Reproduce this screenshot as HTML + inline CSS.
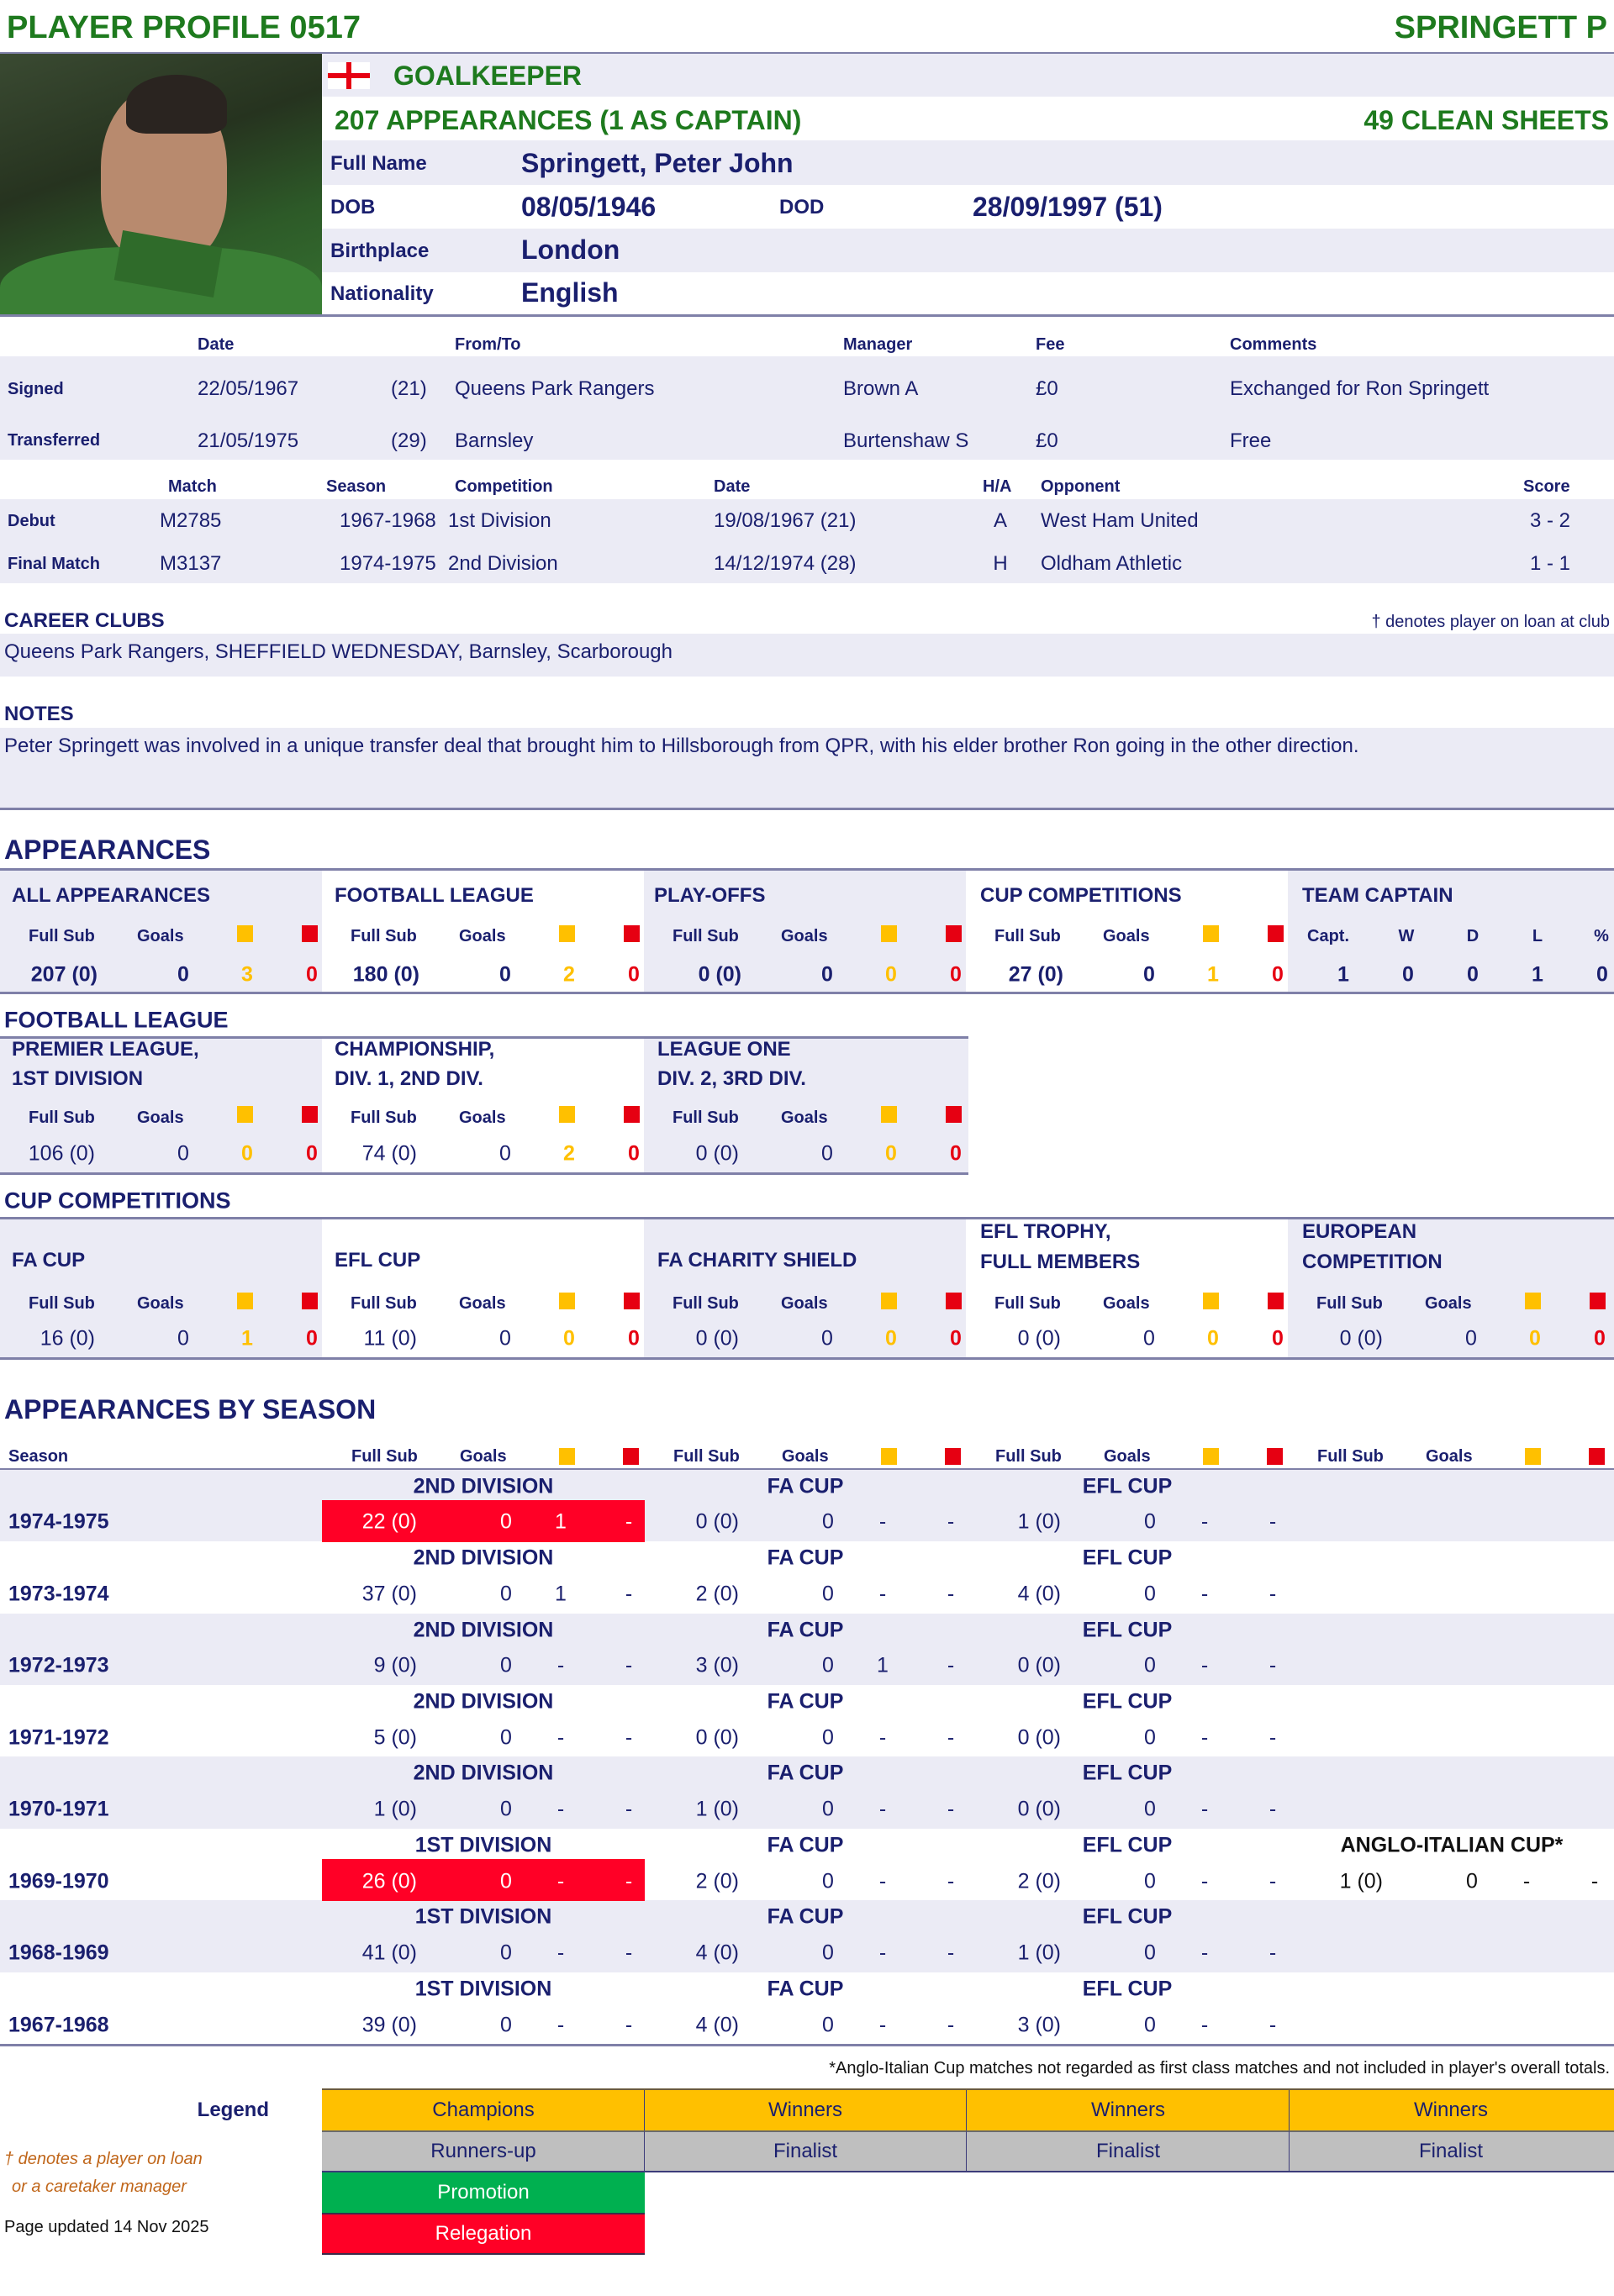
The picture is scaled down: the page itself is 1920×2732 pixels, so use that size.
<!DOCTYPE html>
<html><head><meta charset="utf-8"><style>
*{margin:0;padding:0;box-sizing:border-box}
body{width:1920px;height:2732px;position:relative;background:#fff;font-family:"Liberation Sans",sans-serif;color:#1a1f6e;overflow:hidden}
.b{position:absolute}
.t{position:absolute;transform:translateY(-50%);white-space:nowrap;line-height:1}
.c{position:absolute;transform:translate(-50%,-50%);white-space:nowrap;line-height:1}
.r{position:absolute;transform:translate(-100%,-50%);white-space:nowrap;line-height:1}
.lav{background:#ebebf5}
.g{color:#1e7a1e;font-weight:bold}
.bo{font-weight:bold}
.s20{font-size:20px}.s22{font-size:22px}.s24{font-size:24px}.s25{font-size:25px}.s27{font-size:27px}.s32{font-size:32px}
.line{position:absolute;height:3px;background:#7f80a8}
.yc{position:absolute;width:19px;height:20px;background:#ffc000}
.rc{position:absolute;width:19px;height:20px;background:#e60012}
.y{color:#ffc000}.rd{color:#e60012}
.rel{position:absolute;background:#ff0026}
</style></head><body>

<!-- Title -->
<div class="t g" style="left:8px;top:33px;font-size:38px">PLAYER PROFILE 0517</div>
<div class="r g" style="left:1912px;top:33px;font-size:38px">SPRINGETT P</div>
<div class="line" style="left:0;top:62px;width:1920px"></div>

<!-- Photo -->
<div class="b" style="left:0;top:64px;width:383px;height:311px;background:linear-gradient(160deg,#3a4a32 0%,#26331f 40%,#2d5a28 70%,#357030 100%);overflow:hidden">
  <div class="b" style="left:120px;top:40px;width:150px;height:210px;border-radius:45% 45% 40% 40%;background:#b88a6e"></div>
  <div class="b" style="left:150px;top:25px;width:120px;height:70px;border-radius:50% 50% 20% 20%;background:#2a2420"></div>
  <div class="b" style="left:0;top:230px;width:383px;height:120px;border-radius:40% 40% 0 0;background:#3a7f35"></div>
  <div class="b" style="left:140px;top:220px;width:120px;height:60px;background:#2f6b2a;transform:rotate(10deg)"></div>
</div>

<!-- info bands -->
<div class="b lav" style="left:383px;top:64px;width:1537px;height:51px"></div>
<div class="b lav" style="left:383px;top:167px;width:1537px;height:53px"></div>
<div class="b lav" style="left:383px;top:272px;width:1537px;height:52px"></div>
<div class="line" style="left:0;top:374px;width:1920px"></div>
<!-- flag -->
<div class="b" style="left:390px;top:74px;width:50px;height:32px;background:#fff"></div>
<div class="b" style="left:390px;top:87px;width:50px;height:6px;background:#e60012"></div>
<div class="b" style="left:412px;top:74px;width:6px;height:32px;background:#e60012"></div>
<div class="t g s32" style="left:468px;top:90px">GOALKEEPER</div>
<div class="t g s32" style="left:398px;top:143px">207 APPEARANCES (1 AS CAPTAIN)</div>
<div class="r g s32" style="left:1914px;top:143px">49 CLEAN SHEETS</div>
<div class="t bo s24" style="left:393px;top:195px">Full Name</div>
<div class="t bo s32" style="left:620px;top:194px">Springett, Peter John</div>
<div class="t bo s24" style="left:393px;top:247px">DOB</div>
<div class="t bo s32" style="left:620px;top:246px">08/05/1946</div>
<div class="t bo s24" style="left:927px;top:247px">DOD</div>
<div class="t bo s32" style="left:1157px;top:246px">28/09/1997  (51)</div>
<div class="t bo s24" style="left:393px;top:299px">Birthplace</div>
<div class="t bo s32" style="left:620px;top:297px">London</div>
<div class="t bo s24" style="left:393px;top:350px">Nationality</div>
<div class="t bo s32" style="left:620px;top:348px">English</div>

<!-- transfers -->
<div class="b lav" style="left:0;top:424px;width:1920px;height:123px"></div>
<div class="t bo s20" style="left:235px;top:410px">Date</div>
<div class="t bo s20" style="left:541px;top:410px">From/To</div>
<div class="t bo s20" style="left:1003px;top:410px">Manager</div>
<div class="t bo s20" style="left:1232px;top:410px">Fee</div>
<div class="t bo s20" style="left:1463px;top:410px">Comments</div>
<div class="t bo s20" style="left:9px;top:463px">Signed</div>
<div class="t s24" style="left:235px;top:463px">22/05/1967</div>
<div class="t s24" style="left:465px;top:463px">(21)</div>
<div class="t s24" style="left:541px;top:463px">Queens Park Rangers</div>
<div class="t s24" style="left:1003px;top:463px">Brown A</div>
<div class="t s24" style="left:1232px;top:463px">£0</div>
<div class="t s24" style="left:1463px;top:463px">Exchanged for Ron Springett</div>
<div class="t bo s20" style="left:9px;top:524px">Transferred</div>
<div class="t s24" style="left:235px;top:525px">21/05/1975</div>
<div class="t s24" style="left:465px;top:525px">(29)</div>
<div class="t s24" style="left:541px;top:525px">Barnsley</div>
<div class="t s24" style="left:1003px;top:525px">Burtenshaw S</div>
<div class="t s24" style="left:1232px;top:525px">£0</div>
<div class="t s24" style="left:1463px;top:525px">Free</div>

<!-- matches -->
<div class="b lav" style="left:0;top:594px;width:1920px;height:100px"></div>
<div class="t bo s20" style="left:200px;top:579px">Match</div>
<div class="t bo s20" style="left:388px;top:579px">Season</div>
<div class="t bo s20" style="left:541px;top:579px">Competition</div>
<div class="t bo s20" style="left:849px;top:579px">Date</div>
<div class="t bo s20" style="left:1169px;top:579px">H/A</div>
<div class="t bo s20" style="left:1238px;top:579px">Opponent</div>
<div class="t bo s20" style="left:1812px;top:579px">Score</div>
<div class="t bo s20" style="left:9px;top:620px">Debut</div>
<div class="t s24" style="left:190px;top:620px">M2785</div>
<div class="t s24" style="left:404px;top:620px">1967-1968</div>
<div class="t s24" style="left:533px;top:620px">1st Division</div>
<div class="t s24" style="left:849px;top:620px">19/08/1967  (21)</div>
<div class="c s24" style="left:1190px;top:620px">A</div>
<div class="t s24" style="left:1238px;top:620px">West Ham United</div>
<div class="r s24" style="left:1868px;top:620px">3 - 2</div>
<div class="t bo s20" style="left:9px;top:671px">Final Match</div>
<div class="t s24" style="left:190px;top:671px">M3137</div>
<div class="t s24" style="left:404px;top:671px">1974-1975</div>
<div class="t s24" style="left:533px;top:671px">2nd Division</div>
<div class="t s24" style="left:849px;top:671px">14/12/1974  (28)</div>
<div class="c s24" style="left:1190px;top:671px">H</div>
<div class="t s24" style="left:1238px;top:671px">Oldham Athletic</div>
<div class="r s24" style="left:1868px;top:671px">1 - 1</div>

<!-- career clubs -->
<div class="t bo s24" style="left:5px;top:739px">CAREER CLUBS</div>
<div class="r s20" style="left:1915px;top:740px">† denotes player on loan at club</div>
<div class="b lav" style="left:0;top:754px;width:1920px;height:51px"></div>
<div class="t s24" style="left:5px;top:776px">Queens Park Rangers, SHEFFIELD WEDNESDAY, Barnsley, Scarborough</div>
<div class="t bo s24" style="left:5px;top:850px">NOTES</div>
<div class="b lav" style="left:0;top:866px;width:1920px;height:96px"></div>
<div class="t s24" style="left:5px;top:888px">Peter Springett was involved in a unique transfer deal that brought him to Hillsborough from QPR, with his elder brother Ron going in the other direction.</div>
<div class="line" style="left:0;top:961px;width:1920px"></div>

<!-- APPEARANCES -->
<div class="t bo s32" style="left:5px;top:1011px">APPEARANCES</div>
<div class="line" style="left:0;top:1033px;width:1920px"></div>
<div class="b lav" style="left:0;top:1036px;width:383px;height:145px"></div>
<div class="b lav" style="left:766px;top:1036px;width:383px;height:145px"></div>
<div class="b lav" style="left:1532px;top:1036px;width:388px;height:145px"></div>
<div class="line" style="left:0;top:1180px;width:1920px"></div>

<div class="t bo s24" style="left:14px;top:1066px">ALL APPEARANCES</div>
<div class="t bo s24" style="left:398px;top:1066px">FOOTBALL LEAGUE</div>
<div class="t bo s24" style="left:778px;top:1066px">PLAY-OFFS</div>
<div class="t bo s24" style="left:1166px;top:1066px">CUP COMPETITIONS</div>
<div class="t bo s24" style="left:1549px;top:1066px">TEAM CAPTAIN</div>

<!-- subheaders row appearances, bases 0,383,766,1149 -->
<div class="t bo s20" style="left:34px;top:1114px">Full Sub</div><div class="t bo s20" style="left:163px;top:1114px">Goals</div><div class="yc" style="left:282px;top:1101px"></div><div class="rc" style="left:359px;top:1101px"></div>
<div class="t bo s20" style="left:417px;top:1114px">Full Sub</div><div class="t bo s20" style="left:546px;top:1114px">Goals</div><div class="yc" style="left:665px;top:1101px"></div><div class="rc" style="left:742px;top:1101px"></div>
<div class="t bo s20" style="left:800px;top:1114px">Full Sub</div><div class="t bo s20" style="left:929px;top:1114px">Goals</div><div class="yc" style="left:1048px;top:1101px"></div><div class="rc" style="left:1125px;top:1101px"></div>
<div class="t bo s20" style="left:1183px;top:1114px">Full Sub</div><div class="t bo s20" style="left:1312px;top:1114px">Goals</div><div class="yc" style="left:1431px;top:1101px"></div><div class="rc" style="left:1508px;top:1101px"></div>
<div class="c bo s20" style="left:1580px;top:1114px">Capt.</div><div class="c bo s20" style="left:1673px;top:1114px">W</div><div class="c bo s20" style="left:1752px;top:1114px">D</div><div class="c bo s20" style="left:1829px;top:1114px">L</div><div class="c bo s20" style="left:1905px;top:1114px">%</div>

<div class="r bo s25" style="left:116px;top:1160px">207 (0)</div><div class="c bo s25" style="left:218px;top:1160px">0</div><div class="c bo s25 y" style="left:294px;top:1160px">3</div><div class="c bo s25 rd" style="left:371px;top:1160px">0</div>
<div class="r bo s25" style="left:499px;top:1160px">180 (0)</div><div class="c bo s25" style="left:601px;top:1160px">0</div><div class="c bo s25 y" style="left:677px;top:1160px">2</div><div class="c bo s25 rd" style="left:754px;top:1160px">0</div>
<div class="r bo s25" style="left:882px;top:1160px">0 (0)</div><div class="c bo s25" style="left:984px;top:1160px">0</div><div class="c bo s25 y" style="left:1060px;top:1160px">0</div><div class="c bo s25 rd" style="left:1137px;top:1160px">0</div>
<div class="r bo s25" style="left:1265px;top:1160px">27 (0)</div><div class="c bo s25" style="left:1367px;top:1160px">0</div><div class="c bo s25 y" style="left:1443px;top:1160px">1</div><div class="c bo s25 rd" style="left:1520px;top:1160px">0</div>
<div class="c bo s25" style="left:1598px;top:1160px">1</div><div class="c bo s25" style="left:1675px;top:1160px">0</div><div class="c bo s25" style="left:1752px;top:1160px">0</div><div class="c bo s25" style="left:1829px;top:1160px">1</div><div class="c bo s25" style="left:1906px;top:1160px">0</div>

<!-- FOOTBALL LEAGUE -->
<div class="t bo s27" style="left:5px;top:1214px">FOOTBALL LEAGUE</div>
<div class="line" style="left:0;top:1233px;width:1152px"></div>
<div class="b lav" style="left:0;top:1236px;width:383px;height:160px"></div>
<div class="b lav" style="left:766px;top:1236px;width:386px;height:160px"></div>
<div class="line" style="left:0;top:1395px;width:1152px"></div>
<div class="t bo s24" style="left:14px;top:1249px">PREMIER LEAGUE,</div><div class="t bo s24" style="left:14px;top:1284px">1ST DIVISION</div>
<div class="t bo s24" style="left:398px;top:1249px">CHAMPIONSHIP,</div><div class="t bo s24" style="left:398px;top:1284px">DIV. 1, 2ND DIV.</div>
<div class="t bo s24" style="left:782px;top:1249px">LEAGUE ONE</div><div class="t bo s24" style="left:782px;top:1284px">DIV. 2, 3RD DIV.</div>
<div class="t bo s20" style="left:34px;top:1330px">Full Sub</div><div class="t bo s20" style="left:163px;top:1330px">Goals</div><div class="yc" style="left:282px;top:1316px"></div><div class="rc" style="left:359px;top:1316px"></div>
<div class="t bo s20" style="left:417px;top:1330px">Full Sub</div><div class="t bo s20" style="left:546px;top:1330px">Goals</div><div class="yc" style="left:665px;top:1316px"></div><div class="rc" style="left:742px;top:1316px"></div>
<div class="t bo s20" style="left:800px;top:1330px">Full Sub</div><div class="t bo s20" style="left:929px;top:1330px">Goals</div><div class="yc" style="left:1048px;top:1316px"></div><div class="rc" style="left:1125px;top:1316px"></div>
<div class="r s25" style="left:113px;top:1373px">106 (0)</div><div class="c s25" style="left:218px;top:1373px">0</div><div class="c bo s25 y" style="left:294px;top:1373px">0</div><div class="c bo s25 rd" style="left:371px;top:1373px">0</div>
<div class="r s25" style="left:496px;top:1373px">74 (0)</div><div class="c s25" style="left:601px;top:1373px">0</div><div class="c bo s25 y" style="left:677px;top:1373px">2</div><div class="c bo s25 rd" style="left:754px;top:1373px">0</div>
<div class="r s25" style="left:879px;top:1373px">0 (0)</div><div class="c s25" style="left:984px;top:1373px">0</div><div class="c bo s25 y" style="left:1060px;top:1373px">0</div><div class="c bo s25 rd" style="left:1137px;top:1373px">0</div>

<!-- CUP COMPETITIONS -->
<div class="t bo s27" style="left:5px;top:1429px">CUP COMPETITIONS</div>
<div class="line" style="left:0;top:1448px;width:1920px"></div>
<div class="b lav" style="left:0;top:1451px;width:383px;height:165px"></div>
<div class="b lav" style="left:766px;top:1451px;width:383px;height:165px"></div>
<div class="b lav" style="left:1532px;top:1451px;width:388px;height:165px"></div>
<div class="line" style="left:0;top:1615px;width:1920px"></div>
<div class="t bo s24" style="left:14px;top:1500px">FA CUP</div>
<div class="t bo s24" style="left:398px;top:1500px">EFL CUP</div>
<div class="t bo s24" style="left:782px;top:1500px">FA CHARITY SHIELD</div>
<div class="t bo s24" style="left:1166px;top:1466px">EFL TROPHY,</div><div class="t bo s24" style="left:1166px;top:1502px">FULL MEMBERS</div>
<div class="t bo s24" style="left:1549px;top:1466px">EUROPEAN</div><div class="t bo s24" style="left:1549px;top:1502px">COMPETITION</div>
<div class="t bo s20" style="left:34px;top:1551px">Full Sub</div><div class="t bo s20" style="left:163px;top:1551px">Goals</div><div class="yc" style="left:282px;top:1538px"></div><div class="rc" style="left:359px;top:1538px"></div>
<div class="t bo s20" style="left:417px;top:1551px">Full Sub</div><div class="t bo s20" style="left:546px;top:1551px">Goals</div><div class="yc" style="left:665px;top:1538px"></div><div class="rc" style="left:742px;top:1538px"></div>
<div class="t bo s20" style="left:800px;top:1551px">Full Sub</div><div class="t bo s20" style="left:929px;top:1551px">Goals</div><div class="yc" style="left:1048px;top:1538px"></div><div class="rc" style="left:1125px;top:1538px"></div>
<div class="t bo s20" style="left:1183px;top:1551px">Full Sub</div><div class="t bo s20" style="left:1312px;top:1551px">Goals</div><div class="yc" style="left:1431px;top:1538px"></div><div class="rc" style="left:1508px;top:1538px"></div>
<div class="t bo s20" style="left:1566px;top:1551px">Full Sub</div><div class="t bo s20" style="left:1695px;top:1551px">Goals</div><div class="yc" style="left:1814px;top:1538px"></div><div class="rc" style="left:1891px;top:1538px"></div>
<div class="r s25" style="left:113px;top:1593px">16 (0)</div><div class="c s25" style="left:218px;top:1593px">0</div><div class="c bo s25 y" style="left:294px;top:1593px">1</div><div class="c bo s25 rd" style="left:371px;top:1593px">0</div>
<div class="r s25" style="left:496px;top:1593px">11 (0)</div><div class="c s25" style="left:601px;top:1593px">0</div><div class="c bo s25 y" style="left:677px;top:1593px">0</div><div class="c bo s25 rd" style="left:754px;top:1593px">0</div>
<div class="r s25" style="left:879px;top:1593px">0 (0)</div><div class="c s25" style="left:984px;top:1593px">0</div><div class="c bo s25 y" style="left:1060px;top:1593px">0</div><div class="c bo s25 rd" style="left:1137px;top:1593px">0</div>
<div class="r s25" style="left:1262px;top:1593px">0 (0)</div><div class="c s25" style="left:1367px;top:1593px">0</div><div class="c bo s25 y" style="left:1443px;top:1593px">0</div><div class="c bo s25 rd" style="left:1520px;top:1593px">0</div>
<div class="r s25" style="left:1645px;top:1593px">0 (0)</div><div class="c s25" style="left:1750px;top:1593px">0</div><div class="c bo s25 y" style="left:1826px;top:1593px">0</div><div class="c bo s25 rd" style="left:1903px;top:1593px">0</div>

<!-- APPEARANCES BY SEASON -->
<div class="t bo s32" style="left:5px;top:1677px">APPEARANCES BY SEASON</div>
<div class="t bo s20" style="left:10px;top:1733px">Season</div>
<div class="t bo s20" style="left:418px;top:1733px">Full Sub</div><div class="t bo s20" style="left:547px;top:1733px">Goals</div><div class="yc" style="left:665px;top:1723px"></div><div class="rc" style="left:741px;top:1723px"></div>
<div class="t bo s20" style="left:801px;top:1733px">Full Sub</div><div class="t bo s20" style="left:930px;top:1733px">Goals</div><div class="yc" style="left:1048px;top:1723px"></div><div class="rc" style="left:1124px;top:1723px"></div>
<div class="t bo s20" style="left:1184px;top:1733px">Full Sub</div><div class="t bo s20" style="left:1313px;top:1733px">Goals</div><div class="yc" style="left:1431px;top:1723px"></div><div class="rc" style="left:1507px;top:1723px"></div>
<div class="t bo s20" style="left:1567px;top:1733px">Full Sub</div><div class="t bo s20" style="left:1696px;top:1733px">Goals</div><div class="yc" style="left:1814px;top:1723px"></div><div class="rc" style="left:1890px;top:1723px"></div>
<div class="line" style="left:0;top:1747px;width:1920px;height:2px"></div>

<div class="b lav" style="left:0;top:1749px;width:1920px;height:85px"></div>
<div class="b lav" style="left:0;top:1920px;width:1920px;height:85px"></div>
<div class="b lav" style="left:0;top:2090px;width:1920px;height:86px"></div>
<div class="b lav" style="left:0;top:2261px;width:1920px;height:86px"></div>
<div class="rel" style="left:383px;top:1785px;width:384px;height:50px"></div>
<div class="rel" style="left:383px;top:2212px;width:384px;height:50px"></div>
<div class="line" style="left:0;top:2432px;width:1920px"></div>

<!-- row 0: 1974-1975 top 1749 -->
<div class="c bo s25" style="left:575px;top:1769px">2ND DIVISION</div><div class="c bo s25" style="left:958px;top:1769px">FA CUP</div><div class="c bo s25" style="left:1341px;top:1769px">EFL CUP</div>
<div class="t bo s25" style="left:10px;top:1811px">1974-1975</div>
<div class="r s25" style="left:496px;top:1811px;color:#fff">22 (0)</div><div class="c s25" style="left:602px;top:1811px;color:#fff">0</div><div class="c s25" style="left:667px;top:1811px;color:#fff">1</div><div class="c s25" style="left:748px;top:1811px;color:#fff">-</div>
<div class="r s25" style="left:879px;top:1811px">0 (0)</div><div class="c s25" style="left:985px;top:1811px">0</div><div class="c s25" style="left:1050px;top:1811px">-</div><div class="c s25" style="left:1131px;top:1811px">-</div>
<div class="r s25" style="left:1262px;top:1811px">1 (0)</div><div class="c s25" style="left:1368px;top:1811px">0</div><div class="c s25" style="left:1433px;top:1811px">-</div><div class="c s25" style="left:1514px;top:1811px">-</div>

<!-- row 1: 1973-1974 top 1834 -->
<div class="c bo s25" style="left:575px;top:1854px">2ND DIVISION</div><div class="c bo s25" style="left:958px;top:1854px">FA CUP</div><div class="c bo s25" style="left:1341px;top:1854px">EFL CUP</div>
<div class="t bo s25" style="left:10px;top:1897px">1973-1974</div>
<div class="r s25" style="left:496px;top:1897px">37 (0)</div><div class="c s25" style="left:602px;top:1897px">0</div><div class="c s25" style="left:667px;top:1897px">1</div><div class="c s25" style="left:748px;top:1897px">-</div>
<div class="r s25" style="left:879px;top:1897px">2 (0)</div><div class="c s25" style="left:985px;top:1897px">0</div><div class="c s25" style="left:1050px;top:1897px">-</div><div class="c s25" style="left:1131px;top:1897px">-</div>
<div class="r s25" style="left:1262px;top:1897px">4 (0)</div><div class="c s25" style="left:1368px;top:1897px">0</div><div class="c s25" style="left:1433px;top:1897px">-</div><div class="c s25" style="left:1514px;top:1897px">-</div>

<!-- row 2: 1972-1973 top 1920 -->
<div class="c bo s25" style="left:575px;top:1940px">2ND DIVISION</div><div class="c bo s25" style="left:958px;top:1940px">FA CUP</div><div class="c bo s25" style="left:1341px;top:1940px">EFL CUP</div>
<div class="t bo s25" style="left:10px;top:1982px">1972-1973</div>
<div class="r s25" style="left:496px;top:1982px">9 (0)</div><div class="c s25" style="left:602px;top:1982px">0</div><div class="c s25" style="left:667px;top:1982px">-</div><div class="c s25" style="left:748px;top:1982px">-</div>
<div class="r s25" style="left:879px;top:1982px">3 (0)</div><div class="c s25" style="left:985px;top:1982px">0</div><div class="c s25" style="left:1050px;top:1982px">1</div><div class="c s25" style="left:1131px;top:1982px">-</div>
<div class="r s25" style="left:1262px;top:1982px">0 (0)</div><div class="c s25" style="left:1368px;top:1982px">0</div><div class="c s25" style="left:1433px;top:1982px">-</div><div class="c s25" style="left:1514px;top:1982px">-</div>

<!-- row 3: 1971-1972 top 2005 -->
<div class="c bo s25" style="left:575px;top:2025px">2ND DIVISION</div><div class="c bo s25" style="left:958px;top:2025px">FA CUP</div><div class="c bo s25" style="left:1341px;top:2025px">EFL CUP</div>
<div class="t bo s25" style="left:10px;top:2068px">1971-1972</div>
<div class="r s25" style="left:496px;top:2068px">5 (0)</div><div class="c s25" style="left:602px;top:2068px">0</div><div class="c s25" style="left:667px;top:2068px">-</div><div class="c s25" style="left:748px;top:2068px">-</div>
<div class="r s25" style="left:879px;top:2068px">0 (0)</div><div class="c s25" style="left:985px;top:2068px">0</div><div class="c s25" style="left:1050px;top:2068px">-</div><div class="c s25" style="left:1131px;top:2068px">-</div>
<div class="r s25" style="left:1262px;top:2068px">0 (0)</div><div class="c s25" style="left:1368px;top:2068px">0</div><div class="c s25" style="left:1433px;top:2068px">-</div><div class="c s25" style="left:1514px;top:2068px">-</div>

<!-- row 4: 1970-1971 top 2090 -->
<div class="c bo s25" style="left:575px;top:2110px">2ND DIVISION</div><div class="c bo s25" style="left:958px;top:2110px">FA CUP</div><div class="c bo s25" style="left:1341px;top:2110px">EFL CUP</div>
<div class="t bo s25" style="left:10px;top:2153px">1970-1971</div>
<div class="r s25" style="left:496px;top:2153px">1 (0)</div><div class="c s25" style="left:602px;top:2153px">0</div><div class="c s25" style="left:667px;top:2153px">-</div><div class="c s25" style="left:748px;top:2153px">-</div>
<div class="r s25" style="left:879px;top:2153px">1 (0)</div><div class="c s25" style="left:985px;top:2153px">0</div><div class="c s25" style="left:1050px;top:2153px">-</div><div class="c s25" style="left:1131px;top:2153px">-</div>
<div class="r s25" style="left:1262px;top:2153px">0 (0)</div><div class="c s25" style="left:1368px;top:2153px">0</div><div class="c s25" style="left:1433px;top:2153px">-</div><div class="c s25" style="left:1514px;top:2153px">-</div>

<!-- row 5: 1969-1970 top 2176 -->
<div class="c bo s25" style="left:575px;top:2196px">1ST DIVISION</div><div class="c bo s25" style="left:958px;top:2196px">FA CUP</div><div class="c bo s25" style="left:1341px;top:2196px">EFL CUP</div><div class="c bo s25" style="left:1727px;top:2196px;color:#111">ANGLO-ITALIAN CUP*</div>
<div class="t bo s25" style="left:10px;top:2239px">1969-1970</div>
<div class="r s25" style="left:496px;top:2239px;color:#fff">26 (0)</div><div class="c s25" style="left:602px;top:2239px;color:#fff">0</div><div class="c s25" style="left:667px;top:2239px;color:#fff">-</div><div class="c s25" style="left:748px;top:2239px;color:#fff">-</div>
<div class="r s25" style="left:879px;top:2239px">2 (0)</div><div class="c s25" style="left:985px;top:2239px">0</div><div class="c s25" style="left:1050px;top:2239px">-</div><div class="c s25" style="left:1131px;top:2239px">-</div>
<div class="r s25" style="left:1262px;top:2239px">2 (0)</div><div class="c s25" style="left:1368px;top:2239px">0</div><div class="c s25" style="left:1433px;top:2239px">-</div><div class="c s25" style="left:1514px;top:2239px">-</div>
<div class="r s25" style="left:1645px;top:2239px;color:#111">1 (0)</div><div class="c s25" style="left:1751px;top:2239px;color:#111">0</div><div class="c s25" style="left:1816px;top:2239px;color:#111">-</div><div class="c s25" style="left:1897px;top:2239px;color:#111">-</div>

<!-- row 6: 1968-1969 top 2261 -->
<div class="c bo s25" style="left:575px;top:2281px">1ST DIVISION</div><div class="c bo s25" style="left:958px;top:2281px">FA CUP</div><div class="c bo s25" style="left:1341px;top:2281px">EFL CUP</div>
<div class="t bo s25" style="left:10px;top:2324px">1968-1969</div>
<div class="r s25" style="left:496px;top:2324px">41 (0)</div><div class="c s25" style="left:602px;top:2324px">0</div><div class="c s25" style="left:667px;top:2324px">-</div><div class="c s25" style="left:748px;top:2324px">-</div>
<div class="r s25" style="left:879px;top:2324px">4 (0)</div><div class="c s25" style="left:985px;top:2324px">0</div><div class="c s25" style="left:1050px;top:2324px">-</div><div class="c s25" style="left:1131px;top:2324px">-</div>
<div class="r s25" style="left:1262px;top:2324px">1 (0)</div><div class="c s25" style="left:1368px;top:2324px">0</div><div class="c s25" style="left:1433px;top:2324px">-</div><div class="c s25" style="left:1514px;top:2324px">-</div>

<!-- row 7: 1967-1968 top 2347 -->
<div class="c bo s25" style="left:575px;top:2367px">1ST DIVISION</div><div class="c bo s25" style="left:958px;top:2367px">FA CUP</div><div class="c bo s25" style="left:1341px;top:2367px">EFL CUP</div>
<div class="t bo s25" style="left:10px;top:2410px">1967-1968</div>
<div class="r s25" style="left:496px;top:2410px">39 (0)</div><div class="c s25" style="left:602px;top:2410px">0</div><div class="c s25" style="left:667px;top:2410px">-</div><div class="c s25" style="left:748px;top:2410px">-</div>
<div class="r s25" style="left:879px;top:2410px">4 (0)</div><div class="c s25" style="left:985px;top:2410px">0</div><div class="c s25" style="left:1050px;top:2410px">-</div><div class="c s25" style="left:1131px;top:2410px">-</div>
<div class="r s25" style="left:1262px;top:2410px">3 (0)</div><div class="c s25" style="left:1368px;top:2410px">0</div><div class="c s25" style="left:1433px;top:2410px">-</div><div class="c s25" style="left:1514px;top:2410px">-</div>

<!-- footnote & legend -->
<div class="r s20" style="left:1915px;top:2461px;color:#111">*Anglo-Italian Cup matches not regarded as first class matches and not included in player's overall totals.</div>
<div class="r bo s24" style="left:320px;top:2511px">Legend</div>
<div class="t s20" style="left:5px;top:2569px;color:#c0661a;font-style:italic">† denotes a player on loan</div>
<div class="t s20" style="left:14px;top:2602px;color:#c0661a;font-style:italic">or a caretaker manager</div>
<div class="t s20" style="left:5px;top:2650px;color:#111">Page updated 14 Nov 2025</div>

<div class="b" style="left:383px;top:2485px;width:1537px;height:2px;background:#6b5a3a"></div>
<div class="b" style="left:383px;top:2487px;width:384px;height:48px;background:#ffc000;border-right:1px solid #3b3b7a"></div>
<div class="b" style="left:767px;top:2487px;width:383px;height:48px;background:#ffc000;border-right:1px solid #3b3b7a"></div>
<div class="b" style="left:1150px;top:2487px;width:384px;height:48px;background:#ffc000;border-right:1px solid #3b3b7a"></div>
<div class="b" style="left:1534px;top:2487px;width:386px;height:48px;background:#ffc000"></div>
<div class="b" style="left:383px;top:2535px;width:384px;height:48px;background:#bfbfbf;border-right:1px solid #3b3b7a;border-top:2px solid #6b6b6b"></div>
<div class="b" style="left:767px;top:2535px;width:383px;height:48px;background:#bfbfbf;border-right:1px solid #3b3b7a;border-top:2px solid #6b6b6b"></div>
<div class="b" style="left:1150px;top:2535px;width:384px;height:48px;background:#bfbfbf;border-right:1px solid #3b3b7a;border-top:2px solid #6b6b6b"></div>
<div class="b" style="left:1534px;top:2535px;width:386px;height:48px;background:#bfbfbf;border-top:2px solid #6b6b6b"></div>
<div class="b" style="left:383px;top:2583px;width:1537px;height:2px;background:#3b3b7a"></div>
<div class="b" style="left:383px;top:2585px;width:384px;height:48px;background:#00b050"></div>
<div class="b" style="left:383px;top:2633px;width:384px;height:2px;background:#3b2b4a"></div>
<div class="b" style="left:383px;top:2635px;width:384px;height:46px;background:#ff0026"></div>
<div class="b" style="left:383px;top:2681px;width:384px;height:2px;background:#3b2b4a"></div>
<div class="c s24" style="left:575px;top:2511px">Champions</div>
<div class="c s24" style="left:958px;top:2511px">Winners</div>
<div class="c s24" style="left:1342px;top:2511px">Winners</div>
<div class="c s24" style="left:1726px;top:2511px">Winners</div>
<div class="c s24" style="left:575px;top:2560px">Runners-up</div>
<div class="c s24" style="left:958px;top:2560px">Finalist</div>
<div class="c s24" style="left:1342px;top:2560px">Finalist</div>
<div class="c s24" style="left:1726px;top:2560px">Finalist</div>
<div class="c s24" style="left:575px;top:2609px;color:#fff">Promotion</div>
<div class="c s24" style="left:575px;top:2658px;color:#fff">Relegation</div>
</body></html>
